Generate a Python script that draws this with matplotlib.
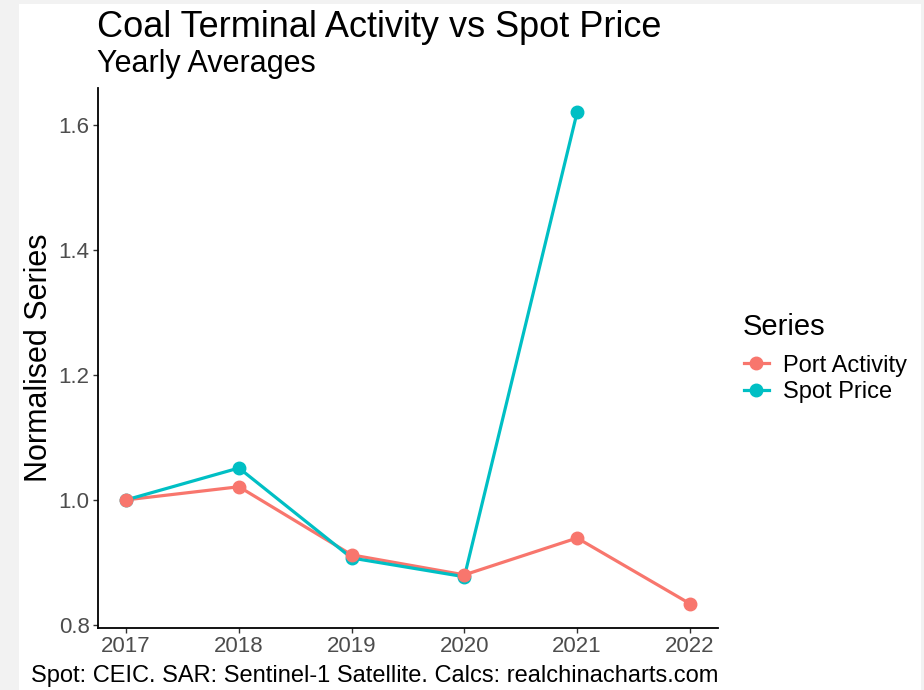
import matplotlib.pyplot as plt
from matplotlib.patches import Rectangle

plt.rcParams['font.family'] = ['Liberation Sans', 'DejaVu Sans']

# yearly averages, normalised to 2017
years_port = [2017, 2018, 2019, 2020, 2021, 2022]
port_activity = [1.0, 1.021, 0.912, 0.880, 0.939, 0.834]
years_spot = [2017, 2018, 2019, 2020, 2021]
spot_price = [1.0, 1.051, 0.907, 0.877, 1.620]

series_names = ['Port Activity', 'Spot Price']
series_colors = ['#F8766D', '#00BFC4']
y_ticks = [0.8, 1.0, 1.2, 1.4, 1.6]
x_ticks = [2017, 2018, 2019, 2020, 2021, 2022]

W, H = 924, 690
fig = plt.figure(figsize=(W / 100, H / 100), dpi=100, facecolor='#f2f2f2')
# white plot background, the screenshot has a thin grey margin around it
fig.patches.append(Rectangle((19 / W, 0), (921 - 19) / W, (H - 4) / H,
                             transform=fig.transFigure, facecolor='white',
                             edgecolor='none', zorder=-1))

ax = fig.add_axes([98 / W, 1 - 628 / H, 620 / W, 540 / H])
ax.set_facecolor('none')

ax.plot(years_port, port_activity, color=series_colors[0], lw=2.3, zorder=2)
ax.plot(years_spot, spot_price, color=series_colors[1], lw=2.3, zorder=2)
ax.plot(years_spot, spot_price, 'o', color=series_colors[1], ms=9, zorder=3)
ax.plot(years_port, port_activity, 'o', color=series_colors[0], ms=9, zorder=3)

ax.set_xlim(2016.75, 2022.25)
ax.set_ylim(0.795, 1.659)
ax.set_xticks(x_ticks)
ax.set_xticklabels([str(x) for x in x_ticks])
ax.set_yticks(y_ticks)
ax.set_yticklabels([f'{v:.1f}' for v in y_ticks])
ax.tick_params(labelsize=16, labelcolor='#4d4d4d', color='#333333',
               length=3.6, width=1, pad=2.5)

for side in ['top', 'right']:
    ax.spines[side].set_visible(False)
for side in ['left', 'bottom']:
    ax.spines[side].set_color('black')
    ax.spines[side].set_linewidth(1.3)

ax.set_ylabel('Normalised Series', fontsize=22, labelpad=3)

fig.text(97 / W, 1 - 37 / H, 'Coal Terminal Activity vs Spot Price',
         fontsize=26, ha='left', va='baseline')
fig.text(97 / W, 1 - 72 / H, 'Yearly Averages', fontsize=22,
         ha='left', va='baseline')
fig.text(718 / W, 1 - 682 / H,
         'Spot: CEIC. SAR: Sentinel-1 Satellite. Calcs: realchinacharts.com',
         fontsize=17, ha='right', va='baseline')

# legend: title as its own text so the gap above the keys matches
fig.text(743 / W, 1 - 335 / H, 'Series', fontsize=21, ha='left', va='baseline')
handles = [plt.Line2D([], [], color=c, lw=2.3, marker='o', ms=9)
           for c in series_colors]
fig.legend(handles, series_names, loc='center left',
           bbox_to_anchor=(744 / W, 1 - 379 / H), frameon=False,
           fontsize=17, handlelength=1.05, handletextpad=0.6,
           labelspacing=0.2, borderpad=0, borderaxespad=0)

fig.savefig('out.png', dpi=100, facecolor=fig.get_facecolor())
